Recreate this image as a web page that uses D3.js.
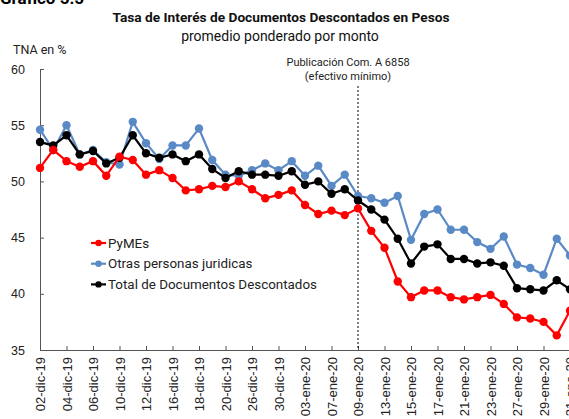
<!DOCTYPE html>
<html>
<head>
<meta charset="utf-8">
<script src="https://cdn.jsdelivr.net/npm/d3@7"></script>
<style>
  body { margin: 0; background: #fff; }
  svg { display: block; font-family: Roboto, "Liberation Sans", sans-serif; }
</style>
</head>
<body>
<div id="chart"></div>
<script>
// business days, Dec 2019 - Jan 2020
var dates = ["02-dic-19","03-dic-19","04-dic-19","05-dic-19","06-dic-19","09-dic-19","10-dic-19","11-dic-19",
  "12-dic-19","13-dic-19","16-dic-19","17-dic-19","18-dic-19","19-dic-19","20-dic-19","23-dic-19",
  "26-dic-19","27-dic-19","30-dic-19","02-ene-20","03-ene-20","06-ene-20","07-ene-20","08-ene-20",
  "09-ene-20","10-ene-20","13-ene-20","14-ene-20","15-ene-20","16-ene-20","17-ene-20","20-ene-20",
  "21-ene-20","22-ene-20","23-ene-20","24-ene-20","27-ene-20","28-ene-20","29-ene-20","30-ene-20","31-ene-20"];

var pymes = [51.2,52.8,51.8,51.3,51.8,50.5,52.2,51.9,50.6,51.0,50.3,49.2,49.3,49.6,49.5,50.0,
  49.3,48.5,48.8,49.2,47.9,47.1,47.4,47.0,47.6,45.6,44.1,41.1,39.7,40.3,40.3,39.7,
  39.5,39.7,39.9,39.1,37.9,37.8,37.5,36.3,38.5];

var otras = [54.6,52.8,55.0,52.4,52.8,51.7,51.5,55.3,53.4,52.0,53.2,53.2,54.7,51.9,50.6,50.5,
  51.0,51.6,51.0,51.8,50.5,51.4,49.6,50.6,48.7,48.5,48.1,48.7,44.8,47.1,47.5,45.7,
  45.7,44.6,44.0,45.1,42.6,42.3,41.7,44.9,43.4];

var total = [53.5,53.2,54.1,52.4,52.7,51.6,52.1,54.1,52.5,52.1,52.4,51.8,52.4,51.1,50.3,50.9,
  50.6,50.6,50.5,50.9,49.7,50.0,48.9,49.3,48.3,47.5,46.6,44.9,42.7,44.2,44.4,43.1,
  43.1,42.7,42.8,42.5,40.5,40.4,40.3,41.2,40.4];

var yTicks = [35, 40, 45, 50, 55, 60];
var seriesNames = ["PyMEs", "Otras personas juridicas", "Total de Documentos Descontados"];
var seriesColors = ["#ff0000", "#5a8ac6", "#000000"];

var width = 569, height = 419;
var svg = d3.select("#chart").append("svg")
  .attr("width", width)
  .attr("height", height);

var x = d3.scalePoint().domain(dates).range([40, 570]);
var y = d3.scaleLinear().domain([35, 60]).range([350, 69]);

// titles
svg.append("text").attr("x", 0).attr("y", 4)
  .attr("font-size", 17).attr("font-weight", "bold").text("Gráfico 5.5");
svg.append("text").attr("x", 281).attr("y", 22).attr("text-anchor", "middle")
  .attr("font-size", 13.7).attr("font-weight", "bold").attr("fill", "#111")
  .text("Tasa de Interés de Documentos Descontados en Pesos");
svg.append("text").attr("x", 280).attr("y", 41).attr("text-anchor", "middle")
  .attr("font-size", 14).attr("fill", "#111")
  .text("promedio ponderado por monto");
svg.append("text").attr("x", 13).attr("y", 54)
  .attr("font-size", 12.5).attr("fill", "#222").text("TNA en %");

// axes
var yAxis = svg.append("g").attr("transform", "translate(40,0)")
  .call(d3.axisLeft(y).tickValues(yTicks).tickSizeInner(-4).tickSizeOuter(0).tickPadding(15));
yAxis.selectAll("text").attr("font-size", 12.5).attr("fill", "#222").attr("font-family", null);

var xAxis = svg.append("g").attr("transform", "translate(0,350)")
  .call(d3.axisBottom(x).tickValues(dates.filter(function(d, i) { return i % 2 == 0; }))
    .tickSizeInner(-4).tickSizeOuter(0).tickPadding(0));
xAxis.selectAll("text")
  .attr("font-size", 13).attr("fill", "#222").attr("font-family", null)
  .attr("transform", "rotate(-90)")
  .attr("text-anchor", "end")
  .attr("x", -7).attr("y", 0).attr("dy", "0.35em");
svg.selectAll(".domain, .tick line").attr("stroke", "#555");

// publication marker
var xPub = x("09-ene-20");
svg.append("line")
  .attr("x1", xPub).attr("x2", xPub).attr("y1", 86).attr("y2", 350)
  .attr("stroke", "#000").attr("stroke-width", 1).attr("stroke-dasharray", "2,2");
svg.append("text").attr("x", 348).attr("y", 66).attr("text-anchor", "middle")
  .attr("font-size", 11).attr("fill", "#222").text("Publicación Com. A 6858");
svg.append("text").attr("x", 348).attr("y", 80).attr("text-anchor", "middle")
  .attr("font-size", 11).attr("fill", "#222").text("(efectivo mínimo)");

// series (red drawn last so it sits on top)
var allSeries = [pymes, otras, total];
var line = d3.line().x(function(d, i) { return x(dates[i]); }).y(function(d) { return y(d); });

[1, 2, 0].forEach(function(s) {
  var g = svg.append("g");
  g.append("path").datum(allSeries[s])
    .attr("d", line).attr("fill", "none")
    .attr("stroke", seriesColors[s]).attr("stroke-width", 2.2);
  g.selectAll("circle").data(allSeries[s]).enter().append("circle")
    .attr("cx", function(d, i) { return x(dates[i]); })
    .attr("cy", function(d) { return y(d); })
    .attr("r", 4.2)
    .attr("fill", seriesColors[s]);
});

// legend
var legend = svg.append("g");
seriesNames.forEach(function(name, i) {
  var ly = 243 + i * 20.7;
  legend.append("line").attr("x1", 91).attr("x2", 106).attr("y1", ly).attr("y2", ly)
    .attr("stroke", seriesColors[i]).attr("stroke-width", 2.2);
  legend.append("circle").attr("cx", 98.5).attr("cy", ly).attr("r", 3.2).attr("fill", seriesColors[i]);
  legend.append("text").attr("x", 108).attr("y", ly).attr("dy", "0.35em")
    .attr("font-size", 13.4).attr("fill", "#222").text(name);
});
</script>
</body>
</html>
